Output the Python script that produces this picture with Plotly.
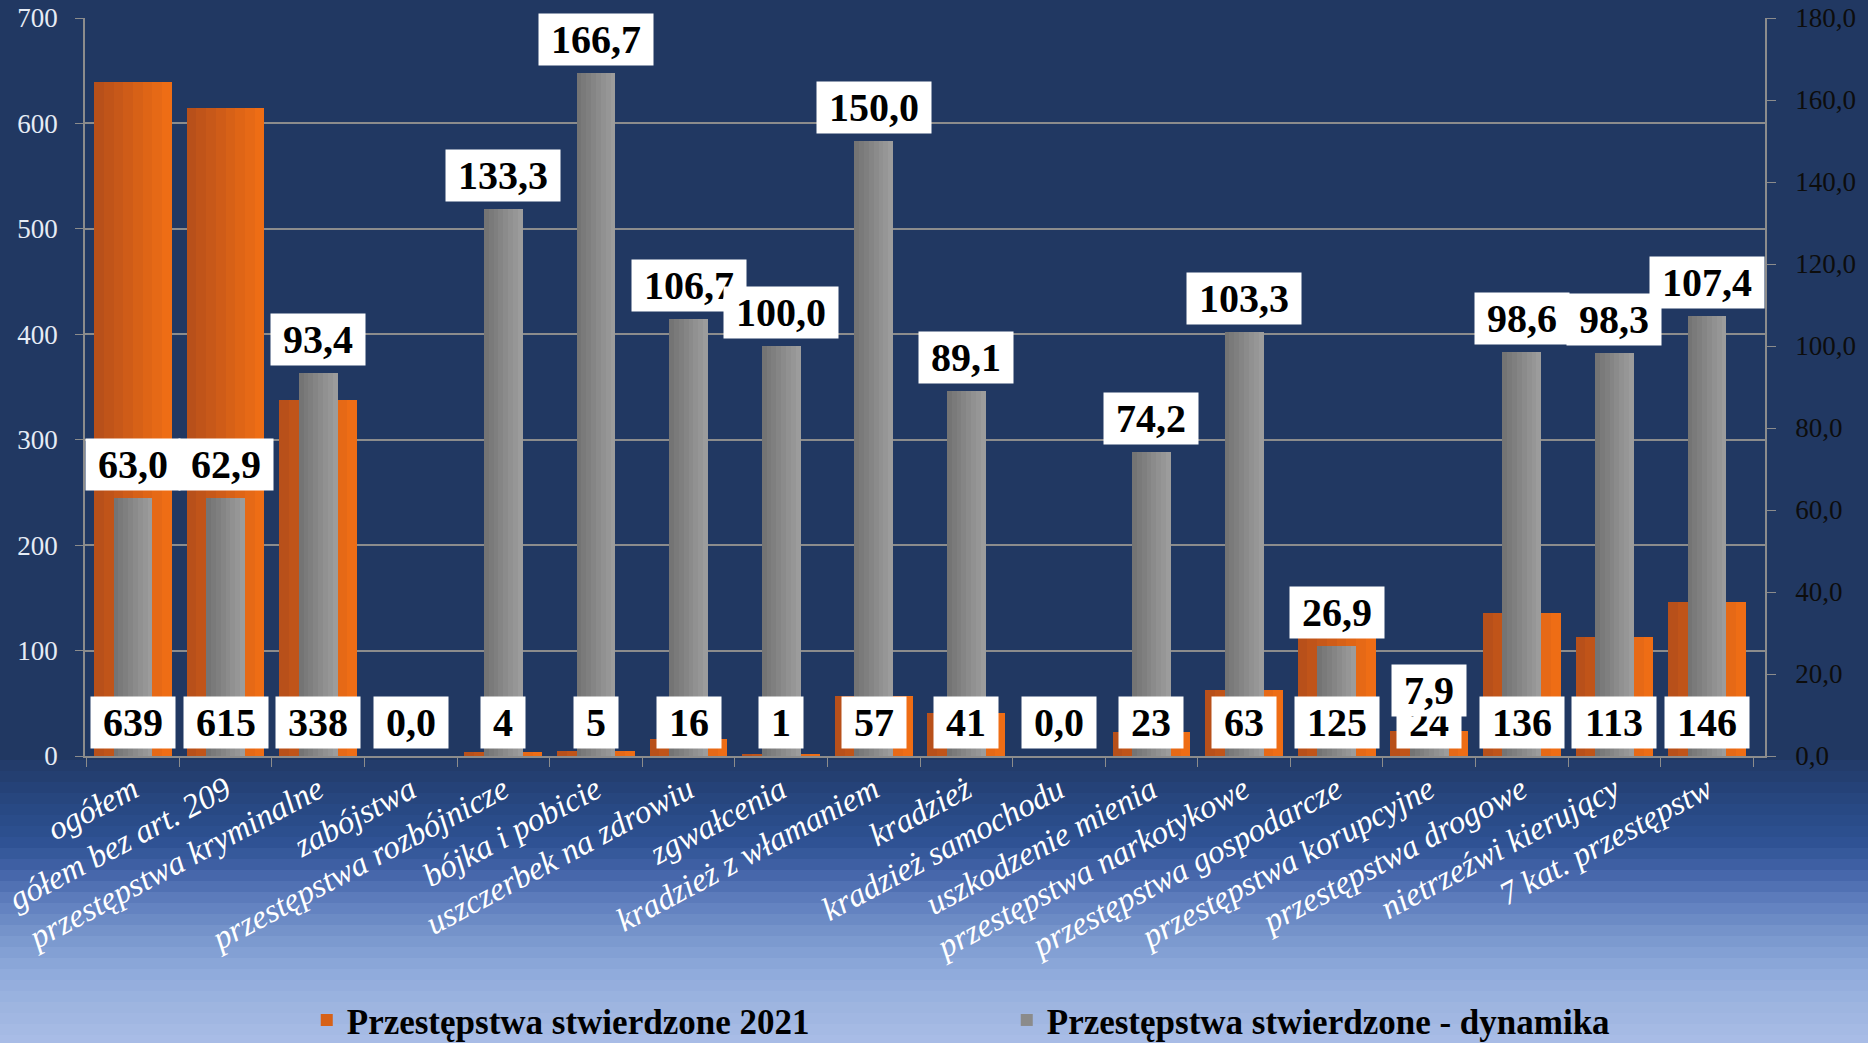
import plotly.graph_objects as go
from plotly.subplots import make_subplots

categories = ["ogółem", "gółem bez art. 209", "przestępstwa kryminalne", "zabójstwa",
              "przestępstwa rozbójnicze", "bójka i pobicie", "uszczerbek na zdrowiu",
              "zgwałcenia", "kradzież z włamaniem", "kradzież", "kradzież samochodu",
              "uszkodzenie mienia", "przestępstwa narkotykowe", "przestępstwa gospodarcze",
              "przestępstwa korupcyjne", "przestępstwa drogowe", "nietrzeźwi kierujący",
              "7 kat. przestępstw"]
crimes_2021 = [639, 615, 338, 0, 4, 5, 16, 1, 57, 41, 0, 23, 63, 125, 24, 136, 113, 146]
dynamics = [63.0, 62.9, 93.4, 0.0, 133.3, 166.7, 106.7, 100.0, 150.0, 89.1, 0.0,
            74.2, 103.3, 26.9, 7.9, 98.6, 98.3, 107.4]
series_names = ["Przestępstwa stwierdzone 2021", "Przestępstwa stwierdzone - dynamika"]

SERIF = "Liberation Serif"
NAVY = "#213862"


def hex2rgb(h):
    h = h.lstrip("#")
    return [int(h[i:i + 2], 16) for i in (0, 2, 4)]


def mix(c1, c2, t):
    a, b = hex2rgb(c1), hex2rgb(c2)
    return "rgb({},{},{})".format(*[round(a[k] + (b[k] - a[k]) * t) for k in range(3)])


def pl(v, dec=1):
    return f"{v:.{dec}f}".replace(".", ",")


def box_w(txt):
    # rough text width for the 40px bold labels + side padding
    return sum(10 if ch == "," else 20 for ch in txt) + 18


fig = make_subplots(specs=[[{"secondary_y": True}]])

# bars are cut into thin slices to fake the left-to-right gradient
n = 8
ow, gw = 0.84, 0.42
for i in range(n):
    fig.add_trace(go.Bar(
        x=categories, y=crimes_2021, width=ow / n, offset=-ow / 2 + i * ow / n,
        marker=dict(color=mix("#b8501a", "#ee6d15", i / (n - 1)), line_width=0),
        name=series_names[0], legendgroup="a", showlegend=(i == n // 2),
        hoverinfo="skip"), secondary_y=False)
for i in range(n):
    fig.add_trace(go.Bar(
        x=categories, y=dynamics, width=gw / n, offset=-gw / 2 + i * gw / n,
        marker=dict(color=mix("#747474", "#9c9c9c", i / (n - 1)), line_width=0),
        name=series_names[1], legendgroup="b", showlegend=(i == n // 2),
        hoverinfo="skip"), secondary_y=True)

annotations = []
label_font = dict(family=SERIF, size=40, color="black", weight="bold")
for c, v in zip(categories, crimes_2021):
    if v == 0:
        continue
    t = str(v)
    annotations.append(dict(x=c, y=0, xref="x", yref="y", text=t, showarrow=False,
                            yanchor="bottom", yshift=7, bgcolor="white", borderpad=3,
                            width=box_w(t), font=label_font))
for c, v in zip(categories, dynamics):
    t = pl(v)
    annotations.append(dict(x=c, y=v, xref="x", yref="y2", text=t, showarrow=False,
                            yanchor="bottom", yshift=7, bgcolor="white", borderpad=3,
                            width=box_w(t), font=label_font))

# background: navy on top, banded fade to light blue at the bottom
stops = [(760, "#223a68"), (800, "#27467f"), (840, "#2d5192"), (870, "#4262a7"),
         (900, "#5e7dbd"), (935, "#7896cc"), (970, "#8eaadb"), (1005, "#9db4e0"),
         (1043, "#a9bde6")]
shapes = []
band = 11
H, TOP, BOT = 1043, 18, 756
for y0 in range(760, H, band):
    y1 = min(y0 + band, H + 2)
    ym = (y0 + y1) / 2
    for (a, ca), (b, cb) in zip(stops[:-1], stops[1:]):
        if a <= ym <= b:
            col = mix(ca, cb, (ym - a) / (b - a))
            break
    else:
        col = stops[-1][1]
    shapes.append(dict(type="rect", xref="paper", yref="paper", layer="below",
                       x0=-0.06, x1=1.07,
                       y0=(BOT - y1) / (BOT - TOP), y1=(BOT - y0) / (BOT - TOP),
                       fillcolor=col, line_width=0))

fig.update_layout(
    width=1868, height=1043,
    margin=dict(l=85, r=103, t=18, b=287, autoexpand=False),
    paper_bgcolor=NAVY, plot_bgcolor="rgba(0,0,0,0)",
    barmode="overlay", bargap=0, separators=", ",
    annotations=annotations, shapes=shapes,
    legend=dict(orientation="h", x=0.132, y=-0.358, xanchor="left", yanchor="middle",
                entrywidth=655, bgcolor="rgba(0,0,0,0)",
                font=dict(family=SERIF, size=35, color="black", weight="bold")),
    font=dict(family=SERIF),
)
fig.update_xaxes(
    type="category", domain=[0, 1], tickangle=-28, ticks="outside", tickson="boundaries",
    ticklen=9, tickcolor="#8c8c8c", showline=True, linecolor="#8c8c8c", linewidth=1.5,
    showgrid=False,
    tickfont=dict(family=SERIF, size=33, color="white", style="italic"),
)
fig.update_yaxes(
    range=[0, 700], dtick=100, ticks="outside", ticklen=8, tickcolor="#8c8c8c",
    showline=True, linecolor="#8c8c8c", linewidth=1.5,
    showgrid=True, gridcolor="#8c8c8c", gridwidth=1.5, zeroline=False,
    ticklabelstandoff=12,
    tickfont=dict(family=SERIF, size=27, color="#e6ecf5"), secondary_y=False)
fig.update_yaxes(
    range=[0, 180], dtick=20, tickformat=".1f", ticks="outside", ticklen=9,
    tickcolor="#8c8c8c", showline=True, linecolor="#8c8c8c", linewidth=1.5,
    showgrid=False, zeroline=False, ticklabelstandoff=14, secondary_y=True)
fig.layout.yaxis2.tickfont = dict(family=SERIF, size=27, color="#0d0d0d")

fig.write_html("out.html", config={"displayModeBar": False},
               post_script="document.body.style.margin='0';")
